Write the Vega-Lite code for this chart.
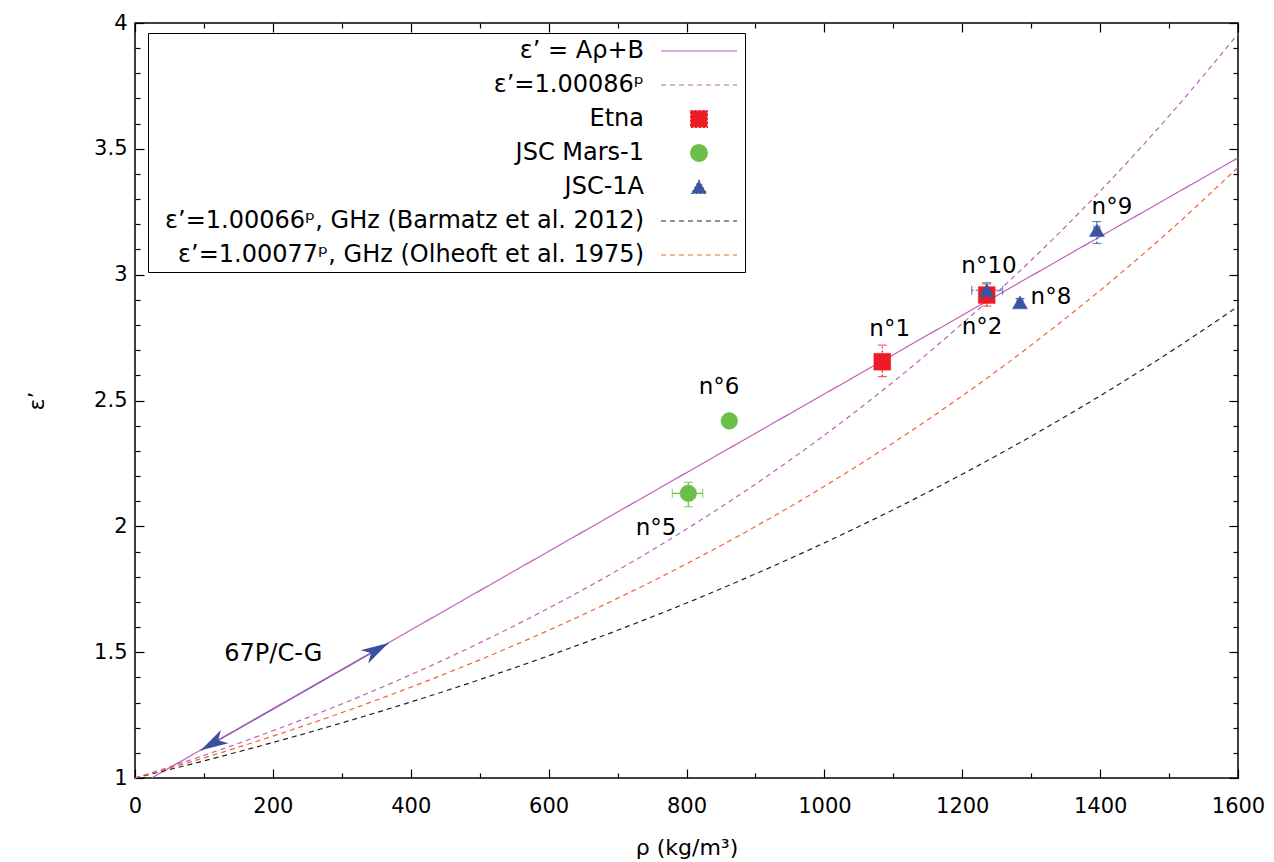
{
  "$schema": "https://vega.github.io/schema/vega-lite/v6.json",
  "width": 1103,
  "height": 755,
  "autosize": {"type": "none"},
  "padding": {"left": 135, "top": 23, "right": 36, "bottom": 84},
  "background": "white",
  "config": {
    "font": "DejaVu Sans",
    "view": {"stroke": "black", "strokeWidth": 1.5},
    "axis": {"grid": false, "domain": false, "labelFont": "DejaVu Sans", "titleFont": "DejaVu Sans", "labelColor": "black", "titleColor": "black", "tickColor": "black", "tickWidth": 1.2, "labelFontSize": 21, "titleFontSize": 22, "titleFontWeight": "normal"},
    "legend": {"orient": "none", "legendX": 13, "legendY": 10, "labelFont": "DejaVu Sans", "labelFontSize": 24, "labelColor": "black", "labelAlign": "right", "labelOffset": -68, "symbolOffset": 533, "labelLimit": 0, "rowPadding": 9, "padding": 5, "strokeColor": "black", "symbolStrokeWidth": 1.2, "symbolSize": 576}
  },
  "datasets": {
    "curves": [
      {"series": "ε’ = Aρ+B", "rho": 24, "eps": 1.0},
      {"series": "ε’ = Aρ+B", "rho": 1600, "eps": 3.464},
      {"series": "ε’=1.00086ᵖ", "rho": 0, "eps": 1.0},
      {"series": "ε’=1.00086ᵖ", "rho": 100, "eps": 1.0898},
      {"series": "ε’=1.00086ᵖ", "rho": 200, "eps": 1.1876},
      {"series": "ε’=1.00086ᵖ", "rho": 300, "eps": 1.2942},
      {"series": "ε’=1.00086ᵖ", "rho": 400, "eps": 1.4104},
      {"series": "ε’=1.00086ᵖ", "rho": 500, "eps": 1.537},
      {"series": "ε’=1.00086ᵖ", "rho": 600, "eps": 1.6749},
      {"series": "ε’=1.00086ᵖ", "rho": 700, "eps": 1.8253},
      {"series": "ε’=1.00086ᵖ", "rho": 800, "eps": 1.9891},
      {"series": "ε’=1.00086ᵖ", "rho": 900, "eps": 2.1677},
      {"series": "ε’=1.00086ᵖ", "rho": 1000, "eps": 2.3623},
      {"series": "ε’=1.00086ᵖ", "rho": 1100, "eps": 2.5743},
      {"series": "ε’=1.00086ᵖ", "rho": 1200, "eps": 2.8054},
      {"series": "ε’=1.00086ᵖ", "rho": 1300, "eps": 3.0572},
      {"series": "ε’=1.00086ᵖ", "rho": 1400, "eps": 3.3317},
      {"series": "ε’=1.00086ᵖ", "rho": 1500, "eps": 3.6307},
      {"series": "ε’=1.00086ᵖ", "rho": 1600, "eps": 3.9567},
      {"series": "ε’=1.00066ᵖ, GHz (Barmatz et al. 2012)", "rho": 0, "eps": 1.0},
      {"series": "ε’=1.00066ᵖ, GHz (Barmatz et al. 2012)", "rho": 100, "eps": 1.0682},
      {"series": "ε’=1.00066ᵖ, GHz (Barmatz et al. 2012)", "rho": 200, "eps": 1.1411},
      {"series": "ε’=1.00066ᵖ, GHz (Barmatz et al. 2012)", "rho": 300, "eps": 1.2189},
      {"series": "ε’=1.00066ᵖ, GHz (Barmatz et al. 2012)", "rho": 400, "eps": 1.302},
      {"series": "ε’=1.00066ᵖ, GHz (Barmatz et al. 2012)", "rho": 500, "eps": 1.3908},
      {"series": "ε’=1.00066ᵖ, GHz (Barmatz et al. 2012)", "rho": 600, "eps": 1.4857},
      {"series": "ε’=1.00066ᵖ, GHz (Barmatz et al. 2012)", "rho": 700, "eps": 1.587},
      {"series": "ε’=1.00066ᵖ, GHz (Barmatz et al. 2012)", "rho": 800, "eps": 1.6952},
      {"series": "ε’=1.00066ᵖ, GHz (Barmatz et al. 2012)", "rho": 900, "eps": 1.8109},
      {"series": "ε’=1.00066ᵖ, GHz (Barmatz et al. 2012)", "rho": 1000, "eps": 1.9344},
      {"series": "ε’=1.00066ᵖ, GHz (Barmatz et al. 2012)", "rho": 1100, "eps": 2.0663},
      {"series": "ε’=1.00066ᵖ, GHz (Barmatz et al. 2012)", "rho": 1200, "eps": 2.2072},
      {"series": "ε’=1.00066ᵖ, GHz (Barmatz et al. 2012)", "rho": 1300, "eps": 2.3578},
      {"series": "ε’=1.00066ᵖ, GHz (Barmatz et al. 2012)", "rho": 1400, "eps": 2.5186},
      {"series": "ε’=1.00066ᵖ, GHz (Barmatz et al. 2012)", "rho": 1500, "eps": 2.6904},
      {"series": "ε’=1.00066ᵖ, GHz (Barmatz et al. 2012)", "rho": 1600, "eps": 2.8738},
      {"series": "ε’=1.00077ᵖ, GHz (Olheoft et al. 1975)", "rho": 0, "eps": 1.0},
      {"series": "ε’=1.00077ᵖ, GHz (Olheoft et al. 1975)", "rho": 100, "eps": 1.08},
      {"series": "ε’=1.00077ᵖ, GHz (Olheoft et al. 1975)", "rho": 200, "eps": 1.1664},
      {"series": "ε’=1.00077ᵖ, GHz (Olheoft et al. 1975)", "rho": 300, "eps": 1.2597},
      {"series": "ε’=1.00077ᵖ, GHz (Olheoft et al. 1975)", "rho": 400, "eps": 1.3605},
      {"series": "ε’=1.00077ᵖ, GHz (Olheoft et al. 1975)", "rho": 500, "eps": 1.4694},
      {"series": "ε’=1.00077ᵖ, GHz (Olheoft et al. 1975)", "rho": 600, "eps": 1.587},
      {"series": "ε’=1.00077ᵖ, GHz (Olheoft et al. 1975)", "rho": 700, "eps": 1.7139},
      {"series": "ε’=1.00077ᵖ, GHz (Olheoft et al. 1975)", "rho": 800, "eps": 1.8511},
      {"series": "ε’=1.00077ᵖ, GHz (Olheoft et al. 1975)", "rho": 900, "eps": 1.9992},
      {"series": "ε’=1.00077ᵖ, GHz (Olheoft et al. 1975)", "rho": 1000, "eps": 2.1591},
      {"series": "ε’=1.00077ᵖ, GHz (Olheoft et al. 1975)", "rho": 1100, "eps": 2.3319},
      {"series": "ε’=1.00077ᵖ, GHz (Olheoft et al. 1975)", "rho": 1200, "eps": 2.5184},
      {"series": "ε’=1.00077ᵖ, GHz (Olheoft et al. 1975)", "rho": 1300, "eps": 2.72},
      {"series": "ε’=1.00077ᵖ, GHz (Olheoft et al. 1975)", "rho": 1400, "eps": 2.9376},
      {"series": "ε’=1.00077ᵖ, GHz (Olheoft et al. 1975)", "rho": 1500, "eps": 3.1726},
      {"series": "ε’=1.00077ᵖ, GHz (Olheoft et al. 1975)", "rho": 1600, "eps": 3.4265}
    ],
    "pts": [
      {"series": "Etna", "sample": "n°1", "rho": 1084.0, "eps": 2.654, "rho_lo": 1074, "rho_hi": 1094, "eps_lo": 2.595, "eps_hi": 2.72},
      {"series": "Etna", "sample": "n°2", "rho": 1235.5, "eps": 2.919, "rho_lo": 1226, "rho_hi": 1245, "eps_lo": 2.875, "eps_hi": 2.963},
      {"series": "JSC Mars-1", "sample": "n°5", "rho": 802.6, "eps": 2.131, "rho_lo": 779.4, "rho_hi": 823.5, "eps_lo": 2.078, "eps_hi": 2.175},
      {"series": "JSC Mars-1", "sample": "n°6", "rho": 862.1, "eps": 2.419, "rho_lo": 862.1, "rho_hi": 862.1, "eps_lo": 2.419, "eps_hi": 2.419},
      {"series": "JSC-1A", "sample": "n°10", "rho": 1235.5, "eps": 2.938, "rho_lo": 1213.7, "rho_hi": 1258.6, "eps_lo": 2.905, "eps_hi": 2.968},
      {"series": "JSC-1A", "sample": "n°8", "rho": 1283.7, "eps": 2.89, "rho_lo": 1279.5, "rho_hi": 1288, "eps_lo": 2.874, "eps_hi": 2.905},
      {"series": "JSC-1A", "sample": "n°9", "rho": 1395.3, "eps": 3.177, "rho_lo": 1391, "rho_hi": 1399.5, "eps_lo": 3.124, "eps_hi": 3.211}
    ],
    "arrow": [
      {"end": "start", "rho": 95.3, "eps": 1.110},
      {"end": "end", "rho": 367.7, "eps": 1.536}
    ],
    "labels": [
      {"text": "n°1", "rho": 1094.8, "eps": 2.784},
      {"text": "n°6", "rho": 847.2, "eps": 2.552},
      {"text": "n°5", "rho": 755.8, "eps": 1.995},
      {"text": "n°10", "rho": 1238.8, "eps": 3.036},
      {"text": "n°2", "rho": 1228.7, "eps": 2.794},
      {"text": "n°8", "rho": 1328.7, "eps": 2.911},
      {"text": "n°9", "rho": 1417.2, "eps": 3.269}
    ],
    "target": [
      {"text": "67P/C-G", "rho": 200.6, "eps": 1.493}
    ]
  },
  "resolve": {"axis": {"x": "independent", "y": "independent"}},
  "layer": [
    {
      "data": {"name": "arrow"},
      "mark": {"type": "line", "color": "#3b4ea0", "strokeWidth": 1.3},
      "encoding": {
        "x": {"field": "rho", "type": "quantitative", "scale": {"domain": [0, 1600], "nice": false, "zero": false},
              "axis": {"orient": "bottom", "values": [0, 200, 400, 600, 800, 1000, 1200, 1400, 1600], "labels": false, "title": null, "tickSize": -9}},
        "y": {"field": "eps", "type": "quantitative", "scale": {"domain": [1, 4], "nice": false, "zero": false},
              "axis": {"orient": "left", "values": [1, 1.5, 2, 2.5, 3, 3.5, 4], "labels": false, "title": null, "tickSize": -9}}
      }
    },
    {
      "data": {"name": "curves"},
      "mark": {"type": "line", "strokeWidth": 1.2, "interpolate": "monotone"},
      "encoding": {
        "x": {"field": "rho", "type": "quantitative",
              "axis": {"orient": "bottom", "values": [0, 200, 400, 600, 800, 1000, 1200, 1400, 1600], "ticks": false, "labelPadding": 17, "labelFlush": false, "format": "d", "title": "ρ (kg/m³)", "titlePadding": 21}},
        "y": {"field": "eps", "type": "quantitative",
              "axis": {"orient": "left", "values": [1, 1.5, 2, 2.5, 3, 3.5, 4], "ticks": false, "labelPadding": 8, "labelFlush": false, "format": "~g", "title": "ε’", "titlePadding": 45}},
        "stroke": {"field": "series", "type": "nominal",
                  "scale": {"domain": ["ε’ = Aρ+B", "ε’=1.00086ᵖ", "Etna", "JSC Mars-1", "JSC-1A", "ε’=1.00066ᵖ, GHz (Barmatz et al. 2012)", "ε’=1.00077ᵖ, GHz (Olheoft et al. 1975)"],
                            "range": ["#c060b8", "#c060b8", "#ed1c24", "#6bbf47", "#3a54a4", "#222222", "#f26235"]},
                  "legend": {"title": null}},
        "strokeDash": {"field": "series", "type": "nominal",
                       "scale": {"domain": ["ε’ = Aρ+B", "ε’=1.00086ᵖ", "Etna", "JSC Mars-1", "JSC-1A", "ε’=1.00066ᵖ, GHz (Barmatz et al. 2012)", "ε’=1.00077ᵖ, GHz (Olheoft et al. 1975)"],
                                 "range": [[1, 0], [5, 4], [2, 2], [1, 0], [2, 2], [5, 4], [5, 4]]},
                       "legend": {"title": null}}
      }
    },
    {
      "data": {"name": "pts"},
      "mark": {"type": "rule", "strokeWidth": 1.2},
      "encoding": {
        "x": {"field": "rho_lo", "type": "quantitative",
              "axis": {"orient": "bottom", "values": [100, 300, 500, 700, 900, 1100, 1300, 1500], "labels": false, "title": null, "tickSize": -5}},
        "x2": {"field": "rho_hi"},
        "y": {"field": "eps", "type": "quantitative",
              "axis": {"orient": "left", "values": [1.1, 1.2, 1.3, 1.4, 1.6, 1.7, 1.8, 1.9, 2.1, 2.2, 2.3, 2.4, 2.6, 2.7, 2.8, 2.9, 3.1, 3.2, 3.3, 3.4, 3.6, 3.7, 3.8, 3.9], "labels": false, "title": null, "tickSize": -5}},
        "stroke": {"field": "series", "type": "nominal", "legend": {"title": null}},
        "strokeDash": {"field": "series", "type": "nominal", "legend": {"title": null}}
      }
    },
    {
      "data": {"name": "pts"},
      "mark": {"type": "rule", "strokeWidth": 1.2},
      "encoding": {
        "x": {"field": "rho", "type": "quantitative",
              "axis": {"orient": "top", "values": [0, 200, 400, 600, 800, 1000, 1200, 1400, 1600], "labels": false, "title": null, "tickSize": -9}},
        "y": {"field": "eps_lo", "type": "quantitative",
              "axis": {"orient": "right", "values": [1, 1.5, 2, 2.5, 3, 3.5, 4], "labels": false, "title": null, "tickSize": -9}},
        "y2": {"field": "eps_hi"},
        "stroke": {"field": "series", "type": "nominal", "legend": {"title": null}},
        "strokeDash": {"field": "series", "type": "nominal", "legend": {"title": null}}
      }
    },
    {
      "data": {"name": "pts"},
      "mark": {"type": "tick", "orient": "vertical", "size": 9, "thickness": 1.2},
      "encoding": {
        "x": {"field": "rho_lo", "type": "quantitative",
              "axis": {"orient": "top", "values": [100, 300, 500, 700, 900, 1100, 1300, 1500], "labels": false, "title": null, "tickSize": -5}},
        "y": {"field": "eps", "type": "quantitative",
              "axis": {"orient": "right", "values": [1.1, 1.2, 1.3, 1.4, 1.6, 1.7, 1.8, 1.9, 2.1, 2.2, 2.3, 2.4, 2.6, 2.7, 2.8, 2.9, 3.1, 3.2, 3.3, 3.4, 3.6, 3.7, 3.8, 3.9], "labels": false, "title": null, "tickSize": -5}},
        "fill": {"field": "series", "type": "nominal", "legend": {"title": null}}
      }
    },
    {
      "data": {"name": "pts"},
      "mark": {"type": "tick", "orient": "vertical", "size": 9, "thickness": 1.2},
      "encoding": {
        "x": {"field": "rho_hi", "type": "quantitative", "axis": null},
        "y": {"field": "eps", "type": "quantitative", "axis": null},
        "fill": {"field": "series", "type": "nominal", "legend": {"title": null}}
      }
    },
    {
      "data": {"name": "pts"},
      "mark": {"type": "tick", "orient": "horizontal", "size": 9, "thickness": 1.2},
      "encoding": {
        "x": {"field": "rho", "type": "quantitative", "axis": null},
        "y": {"field": "eps_lo", "type": "quantitative", "axis": null},
        "fill": {"field": "series", "type": "nominal", "legend": {"title": null}}
      }
    },
    {
      "data": {"name": "pts"},
      "mark": {"type": "tick", "orient": "horizontal", "size": 9, "thickness": 1.2},
      "encoding": {
        "x": {"field": "rho", "type": "quantitative", "axis": null},
        "y": {"field": "eps_hi", "type": "quantitative", "axis": null},
        "fill": {"field": "series", "type": "nominal", "legend": {"title": null}}
      }
    },
    {
      "data": {"name": "pts"},
      "mark": {"type": "point", "filled": true, "opacity": 1, "size": 576, "strokeWidth": 0.5},
      "encoding": {
        "x": {"field": "rho", "type": "quantitative", "axis": null},
        "y": {"field": "eps", "type": "quantitative", "axis": null},
        "fill": {"field": "series", "type": "nominal",
                 "scale": {"domain": ["ε’ = Aρ+B", "ε’=1.00086ᵖ", "Etna", "JSC Mars-1", "JSC-1A", "ε’=1.00066ᵖ, GHz (Barmatz et al. 2012)", "ε’=1.00077ᵖ, GHz (Olheoft et al. 1975)"],
                           "range": ["#c060b8", "#c060b8", "#ed1c24", "#6bbf47", "#3a54a4", "#222222", "#f26235"]},
                 "legend": {"title": null}},
        "stroke": {"field": "series", "type": "nominal", "legend": {"title": null}},
        "shape": {"field": "series", "type": "nominal",
                  "scale": {"domain": ["ε’ = Aρ+B", "ε’=1.00086ᵖ", "Etna", "JSC Mars-1", "JSC-1A", "ε’=1.00066ᵖ, GHz (Barmatz et al. 2012)", "ε’=1.00077ᵖ, GHz (Olheoft et al. 1975)"],
                            "range": ["M-3.17,0 L3.17,0", "M-3.17,0 L3.17,0", "M-0.7,-0.7 L0.7,-0.7 L0.7,0.7 L-0.7,0.7 Z", "M0.69,0 A0.69,0.69 0 1,1 -0.69,0 A0.69,0.69 0 1,1 0.69,0 Z", "M0,-0.54 L0.625,0.54 L-0.625,0.54 Z", "M-3.17,0 L3.17,0", "M-3.17,0 L3.17,0"]},
                  "legend": {"title": null}}
      }
    },
    {
      "data": {"name": "arrow"},
      "transform": [{"filter": "datum.end === 'start'"}],
      "mark": {"type": "point", "filled": true, "opacity": 1, "color": "#3b4ea0", "size": 767, "angle": 240.3, "shape": "M0,0 L0.55,2 L0,1.45 L-0.55,2 Z"},
      "encoding": {
        "x": {"field": "rho", "type": "quantitative", "axis": null},
        "y": {"field": "eps", "type": "quantitative", "axis": null}
      }
    },
    {
      "data": {"name": "arrow"},
      "transform": [{"filter": "datum.end === 'end'"}],
      "mark": {"type": "point", "filled": true, "opacity": 1, "color": "#3b4ea0", "size": 767, "angle": 60.3, "shape": "M0,0 L0.55,2 L0,1.45 L-0.55,2 Z"},
      "encoding": {
        "x": {"field": "rho", "type": "quantitative", "axis": null},
        "y": {"field": "eps", "type": "quantitative", "axis": null}
      }
    },
    {
      "data": {"name": "labels"},
      "mark": {"type": "text", "font": "DejaVu Sans", "fontSize": 23, "color": "black", "align": "center", "baseline": "middle"},
      "encoding": {
        "x": {"field": "rho", "type": "quantitative", "axis": null},
        "y": {"field": "eps", "type": "quantitative", "axis": null},
        "text": {"field": "text"}
      }
    },
    {
      "data": {"name": "target"},
      "mark": {"type": "text", "font": "DejaVu Sans", "fontSize": 24, "color": "black", "align": "center", "baseline": "middle"},
      "encoding": {
        "x": {"field": "rho", "type": "quantitative", "axis": null},
        "y": {"field": "eps", "type": "quantitative", "axis": null},
        "text": {"field": "text"}
      }
    }
  ]
}
